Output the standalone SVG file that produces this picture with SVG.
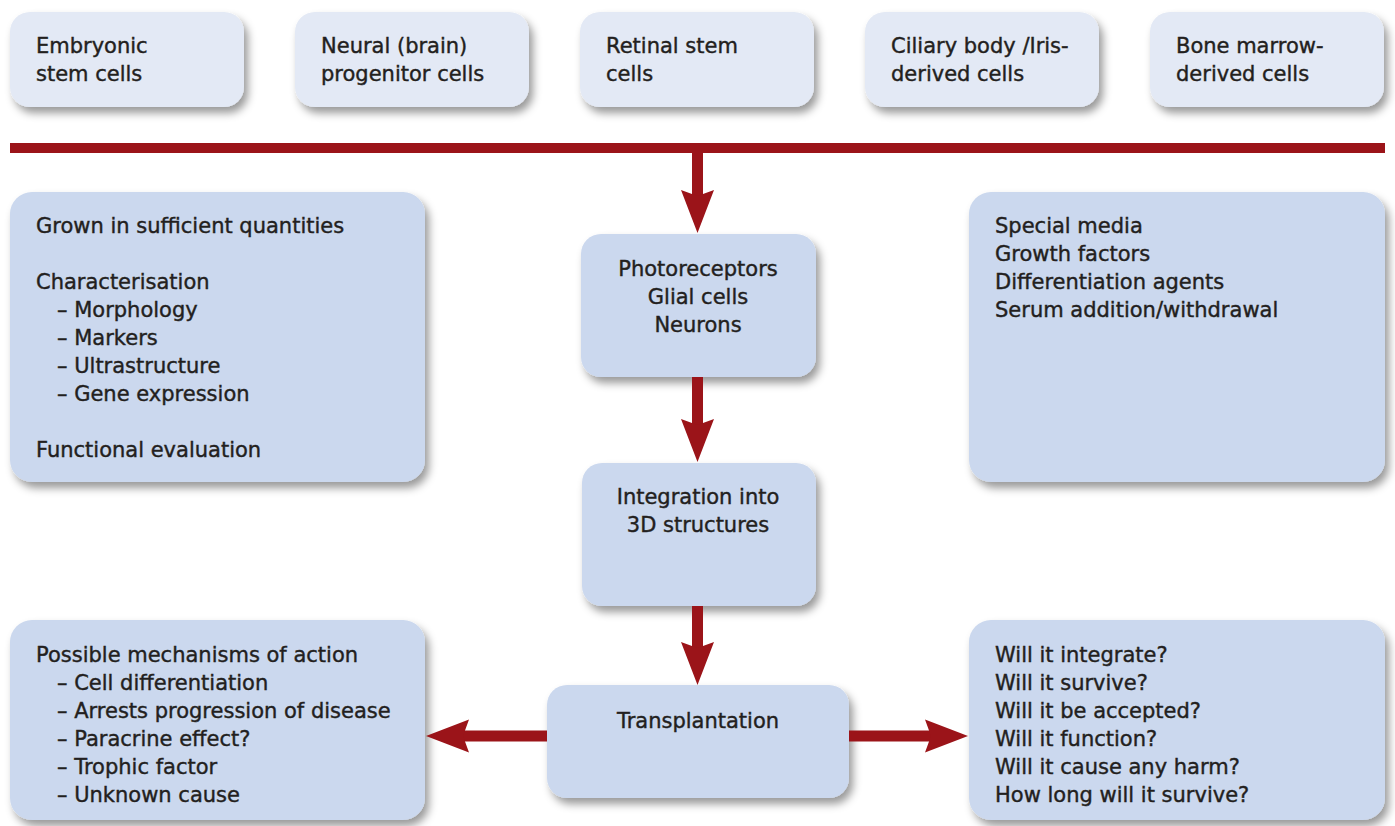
<svg xmlns="http://www.w3.org/2000/svg" width="1395" height="826" viewBox="0 0 1395 826">
<defs>
<filter id="sh" x="-10%" y="-10%" width="125%" height="130%">
<feDropShadow dx="4" dy="6" stdDeviation="4.5" flood-color="#000" flood-opacity="0.4"/>
</filter>
<marker id="ah" markerUnits="userSpaceOnUse" viewBox="-45 -18 48 36" markerWidth="48" markerHeight="36" refX="-37" refY="0" orient="auto" overflow="visible">
<path d="M0,0 L-43,-16.5 L-37,0 L-43,16.5 Z" fill="#9b1419"/>
</marker>
<style>
.top{fill:#e3e9f5;filter:url(#sh)}
.box{fill:#cbd8ee;filter:url(#sh)}
text{font-family:"DejaVu Sans","Liberation Sans",sans-serif;font-size:21px;fill:#231f20;stroke:#231f20;stroke-width:0.4}
.c{text-anchor:middle}
.con{stroke:#9b1419;stroke-width:11;fill:none;marker-end:url(#ah)}
</style>
</defs>
<rect width="1395" height="826" fill="#fff"/>
<g id="src-embryonic"><rect class="top" x="10" y="12" width="234" height="95" rx="20"/><text x="36" y="53">Embryonic</text><text x="36" y="81">stem cells</text></g>
<g id="src-neural"><rect class="top" x="295" y="12" width="234" height="95" rx="20"/><text x="321" y="53">Neural (brain)</text><text x="321" y="81">progenitor cells</text></g>
<g id="src-retinal"><rect class="top" x="580" y="12" width="234" height="95" rx="20"/><text x="606" y="53">Retinal stem</text><text x="606" y="81">cells</text></g>
<g id="src-ciliary"><rect class="top" x="865" y="12" width="234" height="95" rx="20"/><text x="891" y="53">Ciliary body /Iris-</text><text x="891" y="81">derived cells</text></g>
<g id="src-bone"><rect class="top" x="1150" y="12" width="234" height="95" rx="20"/><text x="1176" y="53">Bone marrow-</text><text x="1176" y="81">derived cells</text></g>
<g id="bar"><rect x="10" y="143" width="1375" height="10" fill="#9b1419"/></g>
<g id="criteria"><rect class="box" x="10" y="192" width="415" height="290" rx="22"/>
<text x="36" y="233">Grown in sufficient quantities</text>
<text x="36" y="289">Characterisation</text>
<text x="57" y="317">– Morphology</text>
<text x="57" y="345">– Markers</text>
<text x="57" y="373">– Ultrastructure</text>
<text x="57" y="401">– Gene expression</text>
<text x="36" y="457">Functional evaluation</text></g>
<g id="media"><rect class="box" x="969" y="192" width="416" height="290" rx="22"/>
<text x="995" y="233">Special media</text>
<text x="995" y="261">Growth factors</text>
<text x="995" y="289">Differentiation agents</text>
<text x="995" y="317">Serum addition/withdrawal</text></g>
<g id="cells"><rect class="box" x="581" y="234" width="235" height="143" rx="20"/>
<text class="c" x="698" y="276">Photoreceptors</text>
<text class="c" x="698" y="304">Glial cells</text>
<text class="c" x="698" y="332">Neurons</text></g>
<g id="integration"><rect class="box" x="582" y="463" width="234" height="143" rx="20"/>
<text class="c" x="698" y="504">Integration into</text>
<text class="c" x="698" y="532">3D structures</text></g>
<g id="transplantation"><rect class="box" x="547" y="685" width="302" height="113" rx="20"/>
<text class="c" x="698" y="728">Transplantation</text></g>
<g id="mechanisms"><rect class="box" x="10" y="620" width="415" height="200" rx="22"/>
<text x="36" y="662">Possible mechanisms of action</text>
<text x="57" y="690">– Cell differentiation</text>
<text x="57" y="718">– Arrests progression of disease</text>
<text x="57" y="746">– Paracrine effect?</text>
<text x="57" y="774">– Trophic factor</text>
<text x="57" y="802">– Unknown cause</text></g>
<g id="questions"><rect class="box" x="969" y="620" width="416" height="200" rx="22"/>
<text x="995" y="662">Will it integrate?</text>
<text x="995" y="690">Will it survive?</text>
<text x="995" y="718">Will it be accepted?</text>
<text x="995" y="746">Will it function?</text>
<text x="995" y="774">Will it cause any harm?</text>
<text x="995" y="802">How long will it survive?</text></g>
<g id="connectors">
<line class="con" x1="697.5" y1="152" x2="697.5" y2="196"/>
<line class="con" x1="697.5" y1="377" x2="697.5" y2="425"/>
<line class="con" x1="697.5" y1="606" x2="697.5" y2="648"/>
<line class="con" x1="547" y1="736" x2="463" y2="736"/>
<line class="con" x1="849" y1="736" x2="931" y2="736"/>
</g>
</svg>
